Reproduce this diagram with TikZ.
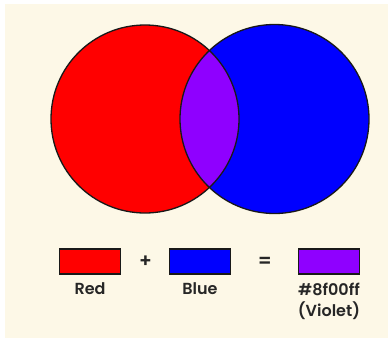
\documentclass[tikz,border=0pt]{standalone}
\usepackage{fontspec}
\setmainfont{Poppins}
\newfontfamily\semib{Poppins SemiBold}
\definecolor{cream}{RGB}{253,248,231}
\definecolor{vred}{RGB}{255,0,0}
\definecolor{vblue}{RGB}{0,0,255}
\definecolor{violet}{HTML}{8F00FF}
\definecolor{edge}{RGB}{25,25,25}
\begin{document}
\begin{tikzpicture}[x=1pt,y=-1pt,
  swatch/.style={draw=edge,line width=1.2pt,minimum width=61pt,minimum height=25pt,inner sep=0pt},
  lbl/.style={font=\semib\fontsize{16}{21}\selectfont,text=black!85,align=center,inner sep=0pt},
  op/.style={font=\semib\fontsize{19}{19}\selectfont,text=black!85,inner sep=0pt}]
\fill[white] (0,0) rectangle (391,340);
\fill[cream] (5,4) rectangle (388,338);
\useasboundingbox (0,0) rectangle (391,340);
\coordinate (cr) at (145,119);
\coordinate (cb) at (274.5,119);
\fill[vred] (cr) circle (94);
\fill[vblue] (cb) circle (94.5);
\begin{scope}
\clip (cr) circle (94);
\fill[violet] (cb) circle (94.5);
\end{scope}
\draw[edge,line width=1.3pt] (cr) circle (94);
\draw[edge,line width=1.3pt] (cb) circle (94.5);
\node[swatch,fill=vred] (sr) at (90,261.5) {};
\node[swatch,fill=vblue] (sb) at (200,261.5) {};
\node[swatch,fill=violet] (sv) at (329,261.5) {};
\node[op] (plus) at (145.5,262) {+};
\node[op] (eq) at (265,262) {=};
\node[lbl,anchor=north] (lr) at (90,282.5) {Red};
\node[lbl,anchor=north] (lb) at (200,282.5) {Blue};
\node[lbl,anchor=north] (lv) at (329,282.5) {\#8f00ff\\(Violet)};
\end{tikzpicture}
\end{document}
